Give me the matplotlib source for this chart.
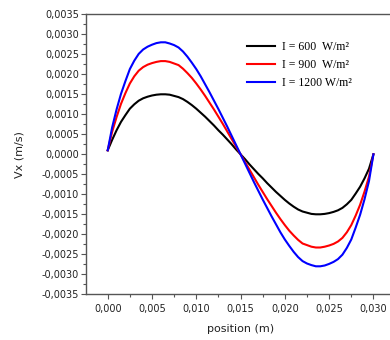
import numpy as np
import matplotlib
matplotlib.use('Agg')
import matplotlib.pyplot as plt
from matplotlib.ticker import FuncFormatter, MultipleLocator

# position in mm, every 0.5 mm from 0 to 30
pos_mm = np.arange(0, 30.5, 0.5)

v_600 = [0.0001, 0.00036, 0.0006, 0.00081, 0.00098, 0.00114, 0.00125, 0.00134, 0.0014, 0.00144,
         0.00147, 0.00149, 0.0015, 0.0015, 0.00149, 0.00146, 0.00143, 0.00138, 0.00131, 0.00123,
         0.00114, 0.00104, 0.00094, 0.00083, 0.00072, 0.0006, 0.00049, 0.00037, 0.00025, 0.00012,
         0.0,
         -0.00012, -0.00025, -0.00037, -0.00049, -0.0006, -0.00072, -0.00083, -0.00094, -0.00104,
         -0.00114, -0.00123, -0.00131, -0.00138, -0.00143, -0.00146, -0.00149, -0.0015, -0.0015,
         -0.00149, -0.00147, -0.00144, -0.0014, -0.00134, -0.00125, -0.00114, -0.00098, -0.00081,
         -0.0006, -0.00036, 0.0]

v_900 = [0.0001, 0.00056, 0.00093, 0.00126, 0.00153, 0.00177, 0.00195, 0.00209, 0.00218, 0.00224,
         0.00228, 0.00231, 0.00233, 0.00233, 0.00231, 0.00227, 0.00223, 0.00214, 0.00203, 0.00191,
         0.00177, 0.00162, 0.00146, 0.00129, 0.00112, 0.00094, 0.00076, 0.00057, 0.00038, 0.00019,
         0.0,
         -0.00019, -0.00038, -0.00057, -0.00076, -0.00094, -0.00112, -0.00129, -0.00146, -0.00162,
         -0.00177, -0.00191, -0.00203, -0.00214, -0.00223, -0.00227, -0.00231, -0.00233, -0.00233,
         -0.00231, -0.00228, -0.00224, -0.00218, -0.00209, -0.00195, -0.00177, -0.00153, -0.00126,
         -0.00093, -0.00056, 0.0]

v_1200 = [0.0001, 0.00067, 0.00112, 0.00151, 0.00183, 0.00213, 0.00234, 0.00251, 0.00262, 0.00269,
          0.00274, 0.00278, 0.0028, 0.0028, 0.00277, 0.00273, 0.00267, 0.00257, 0.00244, 0.00229,
          0.00213, 0.00195, 0.00175, 0.00155, 0.00134, 0.00113, 0.00091, 0.00069, 0.00046, 0.00023,
          0.0,
          -0.00023, -0.00046, -0.00069, -0.00091, -0.00113, -0.00134, -0.00155, -0.00175, -0.00195,
          -0.00213, -0.00229, -0.00244, -0.00257, -0.00267, -0.00273, -0.00277, -0.0028, -0.0028,
          -0.00278, -0.00274, -0.00269, -0.00262, -0.00251, -0.00234, -0.00213, -0.00183, -0.00151,
          -0.00112, -0.00067, 0.0]

labels = ['I = 600  W/m²', 'I = 900  W/m²', 'I = 1200 W/m²']
colors = ['black', 'red', 'blue']

x = pos_mm / 1000.0

fig = plt.figure(figsize=(3.9, 3.4), dpi=100)
ax = fig.add_axes([86 / 390, 45.7 / 340, 310 / 390, 280 / 340])

for ys, lab, c in zip([v_600, v_900, v_1200], labels, colors):
    ax.plot(x, ys, color=c, lw=1.5, label=lab)

ax.set_xlim(-0.00245, 0.03255)
ax.set_ylim(-0.0035, 0.0035)
ax.xaxis.set_major_locator(MultipleLocator(0.005))
ax.xaxis.set_minor_locator(MultipleLocator(0.0025))
ax.yaxis.set_major_locator(MultipleLocator(0.0005))
ax.yaxis.set_minor_locator(MultipleLocator(0.00025))
ax.xaxis.set_major_formatter(FuncFormatter(lambda v, p: ('%.3f' % v).replace('.', ',')))
ax.yaxis.set_major_formatter(FuncFormatter(lambda v, p: ('%.4f' % v).replace('.', ',').replace('-0,0000', '0,0000')))

for s in ax.spines.values():
    s.set_color('#555555')
    s.set_linewidth(1.0)
ax.tick_params(which='both', direction='out', colors='#555555', labelcolor='#222222',
               labelsize=7, width=0.8)
ax.tick_params(which='major', length=3.5)
ax.tick_params(which='minor', length=2)
ax.tick_params(axis='y', pad=1.5)
ax.tick_params(axis='x', pad=3.5)

ax.set_xlabel('position (m)', fontsize=8, color='#222222', labelpad=7)
ax.set_ylabel('Vx (m/s)', fontsize=8, color='#222222', labelpad=12)

ax.legend(loc='upper left', bbox_to_anchor=(0.519, 0.905), frameon=False,
          prop={'family': 'Liberation Serif', 'size': 8.5}, handlelength=2.4,
          handletextpad=0.6, labelspacing=0.5, borderpad=0, borderaxespad=0)

fig.savefig('out.png', dpi=100)
